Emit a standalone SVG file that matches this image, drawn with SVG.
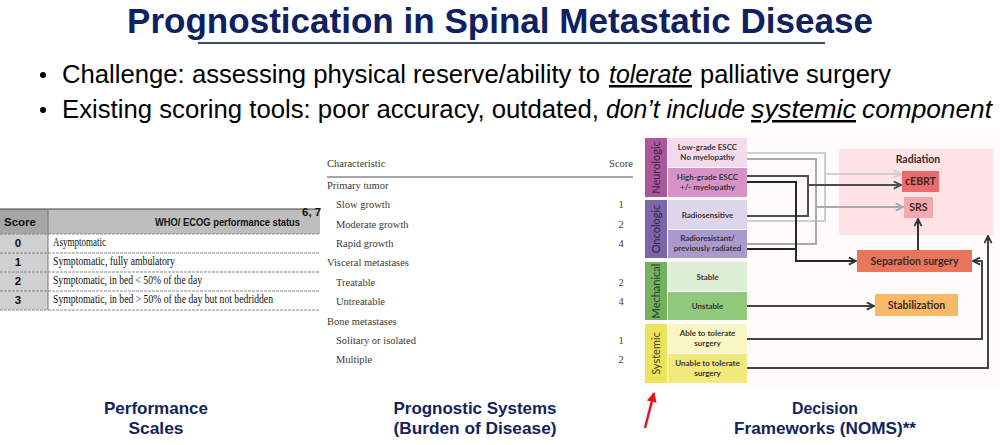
<svg xmlns="http://www.w3.org/2000/svg" width="1000" height="445" viewBox="0 0 1000 445">
<style>
.title{font-family:"Liberation Sans",Arial,sans-serif;font-weight:bold;fill:#0e2160}
.bul{font-family:"Liberation Sans",Arial,sans-serif;font-size:25px;fill:#000}
.cap{font-family:"Liberation Sans",Arial,sans-serif;font-weight:bold;font-size:17px;fill:#13235c;text-anchor:middle}
.th{font-family:"Liberation Sans",Arial,sans-serif;font-weight:bold;font-size:11.5px;fill:#111}
.td{font-family:"Liberation Serif","Times New Roman",serif;font-size:11.5px;fill:#111}
.tn{font-family:"Liberation Sans",Arial,sans-serif;font-weight:bold;font-size:11.5px;fill:#111;text-anchor:middle}
.pt{font-family:"Liberation Serif","Times New Roman",serif;font-size:10.5px;fill:#3a3a3a}
.ps{font-family:"Liberation Serif","Times New Roman",serif;font-size:10.5px;fill:#3a3a3a;text-anchor:middle}
.cat{font-family:Lato,"Open Sans",sans-serif;font-size:11px;text-anchor:middle}
.sub{font-family:Lato,"Open Sans",sans-serif;font-weight:bold;font-size:8px;fill:#3a3434;text-anchor:middle}
.trt{font-family:Lato,"Open Sans",sans-serif;font-weight:bold;font-size:10.5px;fill:#3a2a28;text-anchor:middle}
.ln{fill:none;stroke-width:2;stroke-linejoin:miter}
.row{stroke:#8a8a8a;stroke-width:1;stroke-dasharray:3 1}
</style>
<defs>
<marker id="ah-dark" viewBox="0 0 10 10" refX="9" refY="5" markerWidth="9" markerHeight="9" markerUnits="userSpaceOnUse" orient="auto"><path d="M1,1 L9,5 L1,9" fill="none" stroke="#333" stroke-width="2"/></marker>
<marker id="ah-light" viewBox="0 0 10 10" refX="9" refY="5" markerWidth="9" markerHeight="9" markerUnits="userSpaceOnUse" orient="auto"><path d="M1,1 L9,5 L1,9" fill="none" stroke="#cfcfcf" stroke-width="2"/></marker>
<marker id="ah-mid" viewBox="0 0 10 10" refX="9" refY="5" markerWidth="9" markerHeight="9" markerUnits="userSpaceOnUse" orient="auto"><path d="M1,1 L9,5 L1,9" fill="none" stroke="#a9a9a9" stroke-width="2"/></marker>
<marker id="ah-dg" viewBox="0 0 10 10" refX="9" refY="5" markerWidth="9" markerHeight="9" markerUnits="userSpaceOnUse" orient="auto"><path d="M1,1 L9,5 L1,9" fill="none" stroke="#4d4d4d" stroke-width="2"/></marker>
<marker id="ah-red" viewBox="0 0 10 10" refX="9" refY="5" markerWidth="10" markerHeight="10" markerUnits="userSpaceOnUse" orient="auto"><path d="M0,0 L10,5 L0,10 Z" fill="#e8141c"/></marker>
</defs>
<rect x="0" y="0" width="1000" height="445" fill="#ffffff"/>

<g id="title">
<text class="title" x="500" y="33" font-size="35" text-anchor="middle" textLength="746" lengthAdjust="spacingAndGlyphs">Prognostication in Spinal Metastatic Disease</text>
<line x1="198" y1="43" x2="825" y2="43" stroke="#3d4f66" stroke-width="2"/>
</g>

<g id="bullets">
<circle cx="43" cy="75" r="3" fill="#000"/>
<text class="bul" x="62" y="83" textLength="538" lengthAdjust="spacingAndGlyphs">Challenge: assessing physical reserve/ability to</text>
<text class="bul" x="609" y="83" font-style="italic" text-decoration="underline" textLength="83" lengthAdjust="spacingAndGlyphs">tolerate</text>
<text class="bul" x="700" y="83" textLength="191" lengthAdjust="spacingAndGlyphs">palliative surgery</text>
<circle cx="43" cy="110" r="3" fill="#000"/>
<text class="bul" x="62" y="118" textLength="537" lengthAdjust="spacingAndGlyphs">Existing scoring tools: poor accuracy, outdated,</text>
<text class="bul" x="606" y="118" font-style="italic" textLength="139" lengthAdjust="spacingAndGlyphs">don’t include</text>
<text class="bul" x="751" y="118" font-style="italic" text-decoration="underline" textLength="105" lengthAdjust="spacingAndGlyphs">systemic</text>
<text class="bul" x="862" y="118" font-style="italic" textLength="130" lengthAdjust="spacingAndGlyphs">component</text>
</g>

<g id="ecog-table">
<rect x="0" y="209" width="320" height="25" fill="#bebebe"/>
<rect x="0" y="209" width="48" height="25" fill="#a6a6a6"/>
<rect x="0" y="234" width="48" height="76" fill="#d0d0d0"/>
<line x1="0" y1="209" x2="320" y2="209" stroke="#444" stroke-width="1.2"/>
<line class="row" x1="0" y1="234" x2="320" y2="234"/>
<line class="row" x1="0" y1="253" x2="320" y2="253"/>
<line class="row" x1="0" y1="272" x2="320" y2="272"/>
<line class="row" x1="0" y1="291" x2="320" y2="291"/>
<line class="row" x1="0" y1="310" x2="320" y2="310"/>
<line x1="48" y1="209" x2="48" y2="310" stroke="#777" stroke-width="1"/>
<text class="th" x="4" y="226" textLength="32" lengthAdjust="spacingAndGlyphs">Score</text>
<text class="th" x="155" y="226" font-size="10" textLength="145" lengthAdjust="spacingAndGlyphs">WHO/ ECOG performance status</text>
<text class="th" x="302" y="216" font-size="6.5">6, 7</text>
<text class="tn" x="18" y="247">0</text>
<text class="tn" x="18" y="266">1</text>
<text class="tn" x="18" y="285">2</text>
<text class="tn" x="18" y="304">3</text>
<text class="td" x="53" y="246" textLength="53" lengthAdjust="spacingAndGlyphs">Asymptomatic</text>
<text class="td" x="53" y="265" textLength="122" lengthAdjust="spacingAndGlyphs">Symptomatic, fully ambulatory</text>
<text class="td" x="53" y="284" textLength="149" lengthAdjust="spacingAndGlyphs">Symptomatic, in bed &lt; 50% of the day</text>
<text class="td" x="53" y="303" textLength="220" lengthAdjust="spacingAndGlyphs">Symptomatic, in bed &gt; 50% of the day but not bedridden</text>
</g>

<g id="prognostic-table">
<text class="pt" x="327" y="167">Characteristic</text>
<text class="pt" x="633" y="167" text-anchor="end">Score</text>
<line x1="327" y1="177" x2="633" y2="177" stroke="#8a8a8a" stroke-width="1.5"/>
<text class="pt" x="327" y="189">Primary tumor</text>
<text class="pt" x="336" y="208">Slow growth</text><text class="ps" x="621" y="208">1</text>
<text class="pt" x="336" y="227.5">Moderate growth</text><text class="ps" x="621" y="227.5">2</text>
<text class="pt" x="336" y="247">Rapid growth</text><text class="ps" x="621" y="247">4</text>
<text class="pt" x="327" y="266">Visceral metastases</text>
<text class="pt" x="336" y="285.5">Treatable</text><text class="ps" x="621" y="285.5">2</text>
<text class="pt" x="336" y="305">Untreatable</text><text class="ps" x="621" y="305">4</text>
<text class="pt" x="327" y="324.5">Bone metastases</text>
<text class="pt" x="336" y="344">Solitary or isolated</text><text class="ps" x="621" y="344">1</text>
<text class="pt" x="336" y="363">Multiple</text><text class="ps" x="621" y="363">2</text>
</g>

<rect x="640" y="130" width="360" height="258" fill="#fdfcfa"/>

<g id="neurologic">
<rect x="645" y="138" width="22" height="59" fill="#a9589b"/>
<text class="cat" transform="translate(660,167.5) rotate(-90)" fill="#4a1f45">Neurologic</text>
<rect x="668" y="138" width="79" height="29" fill="#f4dbeb"/>
<text class="sub" x="707.5" y="150">Low-grade ESCC</text>
<text class="sub" x="707.5" y="160">No myelopathy</text>
<rect x="668" y="168" width="79" height="29" fill="#d893c6"/>
<text class="sub" x="707.5" y="180">High-grade ESCC</text>
<text class="sub" x="707.5" y="190">+/- myelopathy</text>
</g>

<g id="oncologic">
<rect x="645" y="200" width="22" height="58" fill="#7b66a8"/>
<text class="cat" transform="translate(660,229) rotate(-90)" fill="#2e2350">Oncologic</text>
<rect x="668" y="200" width="79" height="29" fill="#ddd6eb"/>
<text class="sub" x="707.5" y="217.5">Radiosensitive</text>
<rect x="668" y="230" width="79" height="28" fill="#a99acd"/>
<text class="sub" x="707.5" y="241">Radioresistant/</text>
<text class="sub" x="707.5" y="251">previously radiated</text>
</g>

<g id="mechanical">
<rect x="645" y="262" width="22" height="58" fill="#74b262"/>
<text class="cat" transform="translate(660,291) rotate(-90)" fill="#24401f">Mechanical</text>
<rect x="668" y="262" width="79" height="29" fill="#ddeed6"/>
<text class="sub" x="707.5" y="279.5">Stable</text>
<rect x="668" y="292" width="79" height="28" fill="#90c97c"/>
<text class="sub" x="707.5" y="309">Unstable</text>
</g>

<g id="systemic">
<rect x="645" y="324" width="22" height="59" fill="#ebe35e"/>
<text class="cat" transform="translate(660,353.5) rotate(-90)" fill="#4a4520">Systemic</text>
<rect x="668" y="324" width="79" height="29" fill="#fbf6c6"/>
<text class="sub" x="707.5" y="336">Able to tolerate</text>
<text class="sub" x="707.5" y="346">surgery</text>
<rect x="668" y="354" width="79" height="29" fill="#f1e97c"/>
<text class="sub" x="707.5" y="366">Unable to tolerate</text>
<text class="sub" x="707.5" y="376">surgery</text>
</g>

<g id="radiation">
<rect x="839" y="149" width="154" height="86" fill="#fde2e6"/>
<text class="trt" x="918" y="163">Radiation</text>
</g>
<g id="cebrt">
<rect x="902" y="171" width="37" height="21" fill="#e96b6e"/>
<text class="trt" x="920.5" y="185">cEBRT</text>
</g>
<g id="srs">
<rect x="904" y="197" width="29" height="21" fill="#f5a8b0"/>
<text class="trt" x="918.5" y="211">SRS</text>
</g>
<g id="separation-surgery">
<rect x="857" y="250" width="115" height="22" fill="#e8765c"/>
<text class="trt" x="914.5" y="265">Separation surgery</text>
</g>
<g id="stabilization">
<rect x="875" y="294" width="83" height="22" fill="#f9b865"/>
<text class="trt" x="916.5" y="309">Stabilization</text>
</g>

<g id="connectors">
<polyline class="ln" stroke="#cfcfcf" points="747,153 825,153 825,221 747,221"/>
<line class="ln" stroke="#cfcfcf" x1="825" y1="174" x2="901" y2="174" marker-end="url(#ah-light)"/>
<polyline class="ln" stroke="#a9a9a9" points="747,159 816,159 816,244 747,244"/>
<line class="ln" stroke="#a9a9a9" x1="816" y1="207" x2="903" y2="207" marker-end="url(#ah-mid)"/>
<polyline class="ln" stroke="#4d4d4d" points="747,176 808,176 808,216 747,216"/>
<line class="ln" stroke="#4d4d4d" x1="808" y1="185" x2="901" y2="185" marker-end="url(#ah-dg)"/>
<polyline class="ln" stroke="#262626" points="747,182 796,182 796,261 856,261" marker-end="url(#ah-dark)"/>
<line class="ln" stroke="#262626" x1="747" y1="249" x2="796" y2="249"/>
<line class="ln" stroke="#333" x1="918" y1="250" x2="918" y2="219" marker-end="url(#ah-dark)"/>
<line class="ln" stroke="#444" x1="747" y1="306" x2="874" y2="306" marker-end="url(#ah-dark)"/>
<polyline class="ln" stroke="#444" points="747,339 982,339 982,261 973,261" marker-end="url(#ah-dark)"/>
<polyline class="ln" stroke="#444" points="747,368 988,368 988,236" marker-end="url(#ah-dark)"/>
<line x1="645" y1="428" x2="654" y2="393" stroke="#e8141c" stroke-width="2.5" marker-end="url(#ah-red)"/>
</g>

<g id="captions">
<text class="cap" x="156" y="414" textLength="104" lengthAdjust="spacingAndGlyphs">Performance</text>
<text class="cap" x="156" y="434" textLength="55" lengthAdjust="spacingAndGlyphs">Scales</text>
<text class="cap" x="475" y="414" textLength="163" lengthAdjust="spacingAndGlyphs">Prognostic Systems</text>
<text class="cap" x="475" y="434" textLength="163" lengthAdjust="spacingAndGlyphs">(Burden of Disease)</text>
<text class="cap" x="825" y="414" textLength="66" lengthAdjust="spacingAndGlyphs">Decision</text>
<text class="cap" x="825" y="434" textLength="182" lengthAdjust="spacingAndGlyphs">Frameworks (NOMS)**</text>
</g>
</svg>
